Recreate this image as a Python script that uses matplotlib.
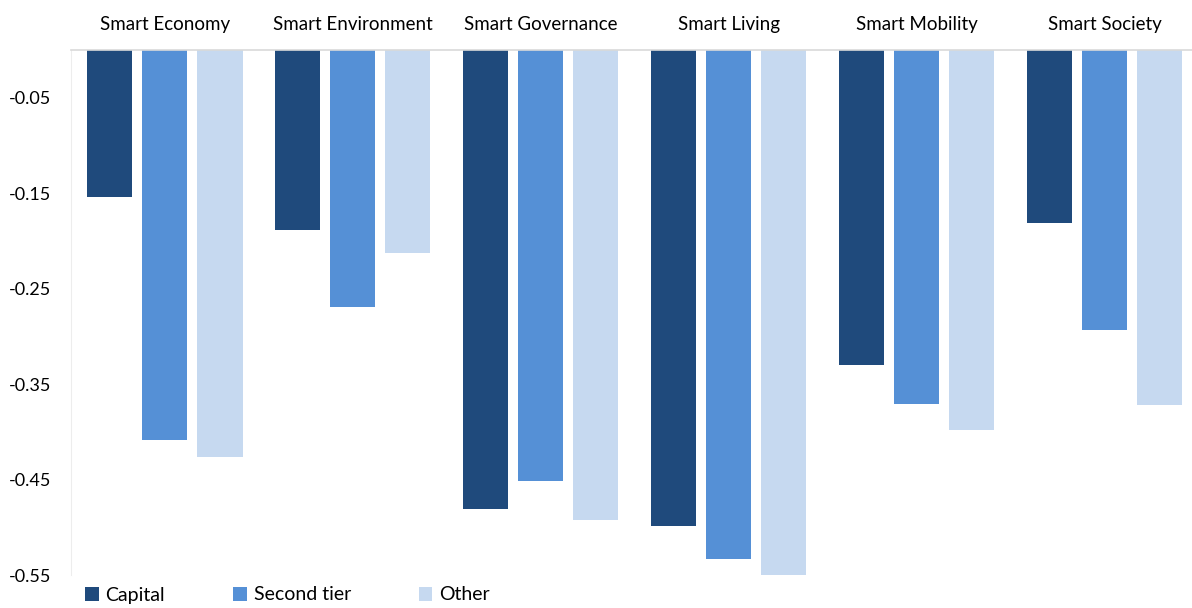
import numpy as np
import matplotlib.pyplot as plt
from matplotlib.patches import Patch

categories = ["Smart Economy", "Smart Environment", "Smart Governance",
              "Smart Living", "Smart Mobility", "Smart Society"]
capital = [-0.154, -0.189, -0.481, -0.499, -0.330, -0.181]
second_tier = [-0.409, -0.269, -0.452, -0.533, -0.371, -0.293]
other = [-0.426, -0.213, -0.492, -0.550, -0.398, -0.372]
y_ticks = [-0.05, -0.15, -0.25, -0.35, -0.45, -0.55]

series = [("Capital", capital, "#1F4A7C"),
          ("Second tier", second_tier, "#5590D6"),
          ("Other", other, "#C6D9F0")]

plt.rcParams["font.family"] = ["Lato", "DejaVu Sans"]

fig = plt.figure(figsize=(11.92, 6.08), dpi=100)
ax = fig.add_axes([71 / 1192, 33 / 608, 1121 / 1192, 525 / 608])

x = np.arange(len(categories))
width = 0.24
step = 0.293
for i, (label, vals, color) in enumerate(series):
    ax.bar(x + (i - 1) * step, vals, width, color=color, label=label)

ax.set_ylim(-0.55, 0)
ax.set_xlim(-0.5, -0.5 + 1121 / 187.9)
ax.set_yticks(y_ticks)
ax.set_yticklabels([f"{v:.2f}" for v in y_ticks], fontsize=13)
ax.xaxis.tick_top()
ax.set_xticks(x)
ax.set_xticklabels(categories, fontsize=13.5)
ax.tick_params(axis="both", length=0)
ax.tick_params(axis="x", pad=12)
ax.tick_params(axis="y", pad=14)

for side in ["right", "bottom"]:
    ax.spines[side].set_visible(False)
ax.spines["top"].set_color("#D9D9D9")
ax.spines["top"].set_linewidth(1.2)
ax.spines["left"].set_color("#EDEDED")

handles = [Patch(facecolor=c, label=l) for l, _, c in series]
fig.legend(handles=handles, loc="center left", bbox_to_anchor=(85 / 1192, 13 / 608),
           ncol=3, frameon=False, fontsize=14, handlelength=0.7, handleheight=0.7,
           handletextpad=0.35, columnspacing=3.5, borderpad=0, borderaxespad=0)

fig.savefig("out.png", dpi=100)
